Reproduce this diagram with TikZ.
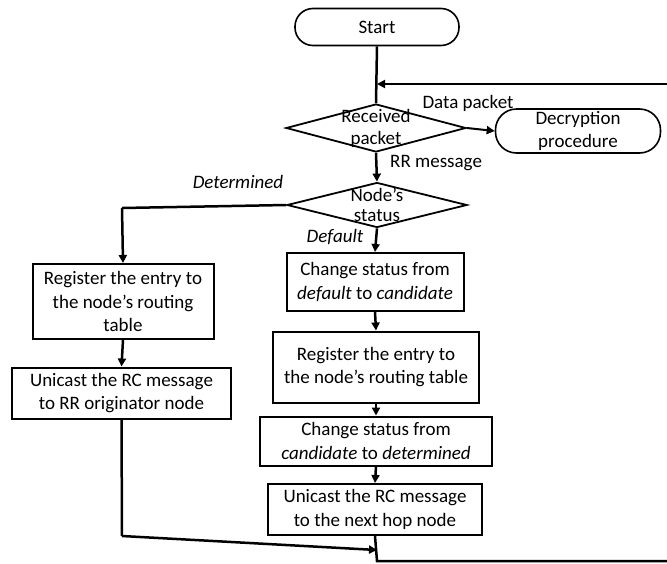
\documentclass[tikz,border=0pt]{standalone}
\usepackage{fontspec}
\setmainfont{Carlito}
\usetikzlibrary{arrows.meta,shapes.geometric}

\tikzset{
  every node/.style={font=\fontsize{19}{23.5}\selectfont},
  procbox/.style={draw, line width=2pt, align=center, inner sep=0pt},
  termbox/.style={draw, line width=1.6pt, rounded corners=18pt, align=center, inner sep=0pt},
  decision/.style={draw, diamond, line width=1.8pt, inner sep=0pt},
  flow/.style={line width=2.5pt},
  flowarr/.style={flow, -{Triangle[length=8pt,width=8pt]}},
  edgetext/.style={inner sep=1pt}
}

\begin{document}
\begin{tikzpicture}[x=1pt,y=-1pt]
  \useasboundingbox (0,0) rectangle (667,563);

  % terminals
  \node[termbox, minimum width=164pt, minimum height=37pt] (start) at (377,27) {Start};
  \node[termbox, minimum width=165pt, minimum height=44pt, rounded corners=21pt] (dec) at (578,131) {Decryption\\procedure};

  % decisions
  \node[decision, minimum width=180pt, minimum height=48pt,
        label={[align=center, font=\fontsize{19}{22}\selectfont]center:Received\\packet}] (rx) at (376,128) {};
  \node[decision, minimum width=180pt, minimum height=45pt,
        label={[align=center, font=\fontsize{19}{20}\selectfont]center:Node’s\\status}] (st) at (377,205) {};

  % default branch
  \node[procbox, minimum width=177pt, minimum height=58pt] (r1) at (375,282)
    {Change status from\\\textit{default} to \textit{candidate}};
  \node[procbox, minimum width=206pt, minimum height=71pt] (r2) at (376,367)
    {Register the entry to\\the node’s routing table};
  \node[procbox, minimum width=232pt, minimum height=49pt] (r3) at (376,441)
    {Change status from\\\textit{candidate} to \textit{determined}};
  \node[procbox, minimum width=214pt, minimum height=51pt] (r4) at (375,509.5)
    {Unicast the RC message\\to the next hop node};

  % determined branch
  \node[procbox, minimum width=181pt, minimum height=75pt] (l1) at (123,301.5)
    {Register the entry to\\the node’s routing\\table};
  \node[procbox, minimum width=219pt, minimum height=51pt] (l2) at (121.5,393)
    {Unicast the RC message\\to RR originator node};

  % bends and loop ends
  \coordinate (join) at (377,84);
  \coordinate (loopin) at (667,84);
  \coordinate (detbend) at (122,208);
  \coordinate (lbend) at (122,536);
  \coordinate (merge) at (377,550);
  \coordinate (rbend) at (377,561);
  \coordinate (loopout) at (667,561);

  % connectors
  \draw[flow] (start.south) -- (rx.north);
  \draw[flowarr] (loopin) -- (join);
  \draw[flowarr, line width=2pt] (rx.east) -- (dec.west);
  \draw[flowarr] (rx.south) -- (st.north);
  \draw[flow] (st.west) -- (detbend);
  \draw[flowarr] (detbend) -- (l1.north);
  \draw[flowarr] (st.south) -- (r1.north);
  \draw[flowarr] (r1.south) -- (r2.north);
  \draw[flowarr] (r2.south) -- (r3.north);
  \draw[flowarr] (r3.south) -- (r4.north);
  \draw[flowarr] (l1.south) -- (l2.north);
  \draw[flow] (l2.south) -- (lbend);
  \draw[flowarr] (lbend) -- (merge);
  \draw[flow] (r4.south) -- (rbend) -- (loopout);

  % branch labels
  \node[edgetext] (lbldata) at (468,103) {Data packet};
  \node[edgetext, anchor=west] (lblrr) at (389,163) {RR message};
  \node[edgetext] (lbldet) at (238,182) {\textit{Determined}};
  \node[edgetext] (lbldef) at (335,237) {\textit{Default}};
\end{tikzpicture}
\end{document}
